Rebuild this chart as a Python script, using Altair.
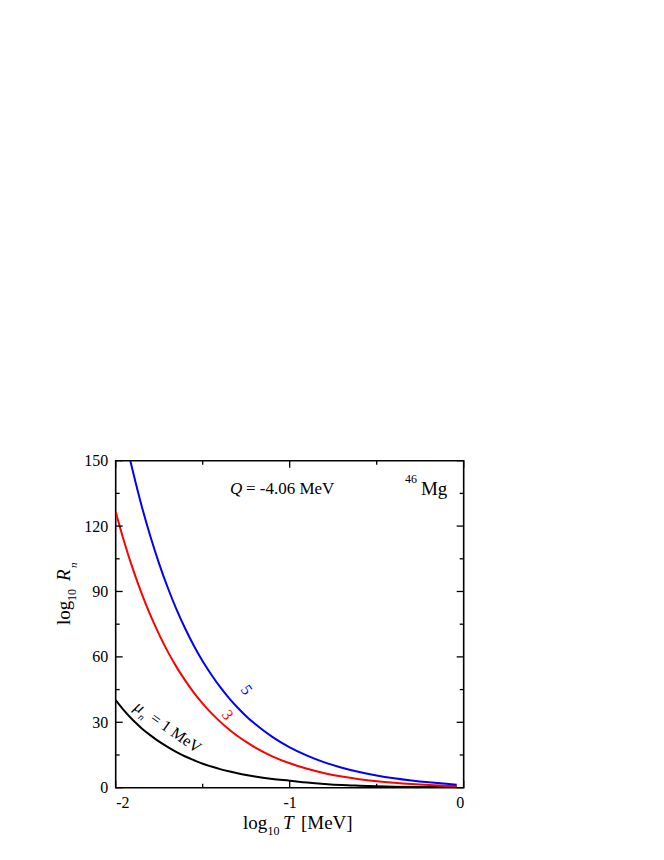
import altair as alt
import pandas as pd

# ---------------- data ----------------
logT_black = [-2.0, -1.95, -1.9, -1.85, -1.8, -1.75, -1.7, -1.65, -1.6, -1.55, -1.5, -1.45,
              -1.4, -1.35, -1.3, -1.25, -1.2, -1.1, -1.0, -0.9, -0.8, -0.7, -0.6, -0.5,
              -0.4, -0.3, -0.2, -0.1, -0.04]
R_black = [40.2, 35.2, 30.9, 27.2, 24.0, 21.1, 18.6, 16.3, 14.3, 12.6, 11.0, 9.7,
           8.5, 7.5, 6.6, 5.8, 5.1, 4.0, 3.2, 2.35, 1.7, 1.2, 0.9, 0.65,
           0.48, 0.35, 0.27, 0.21, 0.2]

logT_red = [-2.0, -1.95, -1.9, -1.85, -1.8, -1.75, -1.7, -1.65, -1.6, -1.55, -1.5, -1.45,
            -1.4, -1.35, -1.3, -1.25, -1.2, -1.1, -1.0, -0.9, -0.8, -0.7, -0.6, -0.5,
            -0.4, -0.3, -0.2, -0.1, -0.04]
R_red = [126.5, 112.5, 100.0, 88.9, 79.0, 70.2, 62.3, 55.3, 49.1, 43.5, 38.6, 34.2,
         30.3, 26.8, 23.7, 21.0, 18.5, 14.4, 11.2, 8.66, 6.66, 5.09, 3.87, 2.93,
         2.21, 1.65, 1.24, 0.93, 0.8]

logT_blue = [-1.916, -1.9, -1.85, -1.8, -1.75, -1.7, -1.65, -1.6, -1.55, -1.5, -1.45,
             -1.4, -1.35, -1.3, -1.25, -1.2, -1.1, -1.0, -0.9, -0.8, -0.7, -0.6, -0.5,
             -0.4, -0.3, -0.2, -0.1, -0.04]
R_blue = [150.0, 144.7, 129.0, 115.1, 102.7, 91.6, 81.7, 72.9, 65.0, 58.0, 51.8,
          46.2, 41.2, 36.8, 32.8, 29.3, 23.3, 18.5, 14.7, 11.6, 9.18, 7.21, 5.62,
          4.34, 3.30, 2.45, 1.75, 1.4]

series_names = ["1", "3", "5"]
series_colors = ["black", "#ff0000", "#0000ff"]

x_major = [-2, -1, 0]
x_minor = [-1.5, -0.5]
y_major = [0, 30, 60, 90, 120, 150]
y_minor = [15, 45, 75, 105, 135]

rows = []
for name, xs, ys in [("1", logT_black, R_black), ("3", logT_red, R_red), ("5", logT_blue, R_blue)]:
    for xv, yv in zip(xs, ys):
        rows.append({"series": name, "logT": xv, "R": yv})
df = pd.DataFrame(rows)

W, H = 348, 327
FONT = "Liberation Serif"

x_scale = alt.Scale(domain=[-2, 0], nice=False, zero=False)
y_scale = alt.Scale(domain=[0, 150], nice=False, zero=False)

x_axis = alt.Axis(values=x_major, labelExpr="'' + datum.value", ticks=False, domain=False,
                  grid=False, title=None, labelFont=FONT, labelFontSize=16,
                  labelPadding=7, labelColor="black")
y_axis = alt.Axis(values=y_major, ticks=False, domain=False, grid=False, title=None,
                  labelFont=FONT, labelFontSize=16, labelPadding=8, labelColor="black")

lines = alt.Chart(df).mark_line(strokeWidth=2, clip=True, interpolate="monotone").encode(
    x=alt.X("logT:Q", scale=x_scale, axis=x_axis),
    y=alt.Y("R:Q", scale=y_scale, axis=y_axis),
    color=alt.Color("series:N", scale=alt.Scale(domain=series_names, range=series_colors), legend=None),
)


def xticks(vals, length):
    d = pd.DataFrame({"logT": vals})
    bottom = alt.Chart(d).mark_rule(color="black", strokeWidth=1.3).encode(
        x=alt.X("logT:Q", scale=x_scale, axis=x_axis), y=alt.value(H), y2=alt.value(H - length))
    top = alt.Chart(d).mark_rule(color="black", strokeWidth=1.3).encode(
        x=alt.X("logT:Q", scale=x_scale, axis=x_axis), y=alt.value(0), y2=alt.value(length))
    return [bottom, top]


def yticks(vals, length):
    d = pd.DataFrame({"R": vals})
    left = alt.Chart(d).mark_rule(color="black", strokeWidth=1.3).encode(
        y=alt.Y("R:Q", scale=y_scale, axis=y_axis), x=alt.value(0), x2=alt.value(length))
    right = alt.Chart(d).mark_rule(color="black", strokeWidth=1.3).encode(
        y=alt.Y("R:Q", scale=y_scale, axis=y_axis), x=alt.value(W), x2=alt.value(W - length))
    return [left, right]


tick_layers = xticks(x_major, 7) + xticks(x_minor, 4) + yticks(y_major, 7) + yticks(y_minor, 4)

one = pd.DataFrame({"a": [0]})


def txt(text, x, y, size, color="black", italic=False, angle=0, dx=0, dy=0,
        align="left", baseline="alphabetic"):
    kw = dict(text=text, font=FONT, fontSize=size, color=color, align=align,
              baseline=baseline, dx=dx, dy=dy)
    if italic:
        kw["fontStyle"] = "italic"
    if angle:
        kw["angle"] = angle
    return alt.Chart(one).mark_text(**kw).encode(x=alt.value(x), y=alt.value(y))


texts = []
# x-axis title: log10 T [MeV]
xt_x, xt_y = 127.3, 368.3
texts += [
    txt("log", xt_x, xt_y, 19),
    txt("10", xt_x, xt_y, 12, dx=24.5, dy=6),
    txt("T", xt_x, xt_y, 19, italic=True, dx=40),
    txt("[MeV]", xt_x, xt_y, 19, dx=58),
]
# y-axis title: log10 Rn (rotated)
yt_x, yt_y = -45.7, 164.3
texts += [
    txt("log", yt_x, yt_y, 19, angle=270),
    txt("10", yt_x, yt_y, 12, angle=270, dx=24, dy=6),
    txt("R", yt_x, yt_y, 19, italic=True, angle=270, dx=44),
    txt("n", yt_x, yt_y, 11, italic=True, angle=270, dx=57, dy=7),
]
# Q annotation and nucleus
texts += [
    txt("Q", 114.3, 33.3, 17, italic=True),
    txt("= -4.06 MeV", 114.3, 33.3, 17, dx=16),
    txt("46", 289.3, 22.3, 12),
    txt("Mg", 305.3, 34.3, 19),
]
# curve labels
texts += [
    txt("5", 130.8, 229.3, 16, color="#0000ff", angle=55, align="center", baseline="middle"),
    txt("3", 111.8, 254.3, 16, color="#ff0000", angle=55, align="center", baseline="middle"),
    txt("\u03bc", 17.2, 248.4, 17, italic=True, angle=35),
    txt("n", 17.2, 248.4, 10, italic=True, angle=35, dx=9, dy=5),
    txt("= 1 MeV", 17.2, 248.4, 16, angle=35, dx=20),
]

chart = alt.layer(lines, *tick_layers, *texts).properties(
    width=W, height=H,
    autosize=alt.AutoSizeParams(type="none"),
    padding={"left": 107.7, "top": 452.7, "right": 20, "bottom": 70},
).configure_view(stroke="black", strokeWidth=1.6)

chart.save("out.html", embed_options={"renderer": "svg", "actions": False})
